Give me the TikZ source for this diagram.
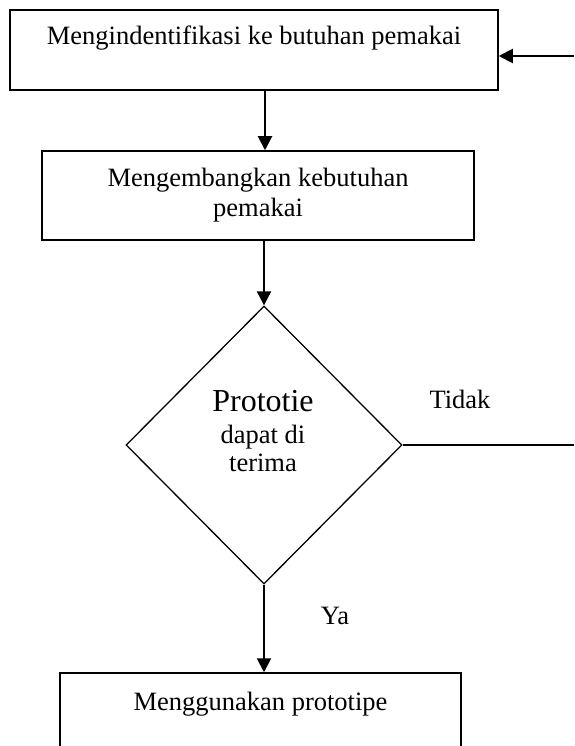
\documentclass[tikz,border=0pt]{standalone}
\usepackage{fontspec}
\setmainfont{Liberation Serif}
\usetikzlibrary{arrows.meta,shapes.geometric}
\begin{document}
\begin{tikzpicture}[x=1pt,y=-1pt,
  boxstyle/.style={draw, line width=1.5pt, rectangle, inner sep=0pt, font=\fontsize{26.5}{30}\selectfont},
  decstyle/.style={draw, diamond, line width=1.3pt, inner sep=0pt, minimum width=276pt, minimum height=278pt},
  arr/.style={line width=2pt, -{Triangle[length=14pt,width=14pt]}},
  plainline/.style={line width=2pt},
  txt/.style={font=\fontsize{26.5}{28}\selectfont, inner sep=0pt}
]
\clip (0,0) rectangle (574,746);
\fill[white] (0,0) rectangle (574,746);

\node[boxstyle, minimum width=488pt, text height=35pt, text depth=45pt, anchor=base] (box1) at (254,45) {Mengindentifikasi ke butuhan pemakai};
\node[boxstyle, minimum width=432pt, minimum height=89pt, align=center] (box2) at (258,195.5) {Mengembangkan kebutuhan\\pemakai};
\node[decstyle] (dec) at (264,445) {};
\node[txt, align=center] (dectext) at (263,431) {{\fontsize{32}{34}\selectfont Prototie}\\[4pt]dapat di\\terima};
\node[boxstyle, minimum width=401pt, text height=37pt, text depth=60pt, anchor=base] (box3) at (260.5,710) {Menggunakan prototipe};

\node[txt] (tidak) at (460,399) {Tidak};
\node[txt] (ya) at (335,616) {Ya};

\coordinate (inR) at (574,56);
\coordinate (outR) at (574,445);
\coordinate (col) at (265,0);

\draw[arr] (inR) -- (inR -| box1.east);
\draw[arr] (box1.south -| col) -- (box2.north -| col);
\draw[arr] (box2.south -| dec.north) -- (dec.north);
\draw[arr] (dec.south) -- (dec.south |- box3.north);
\draw[plainline] (dec.east) -- (outR);
\end{tikzpicture}
\end{document}
